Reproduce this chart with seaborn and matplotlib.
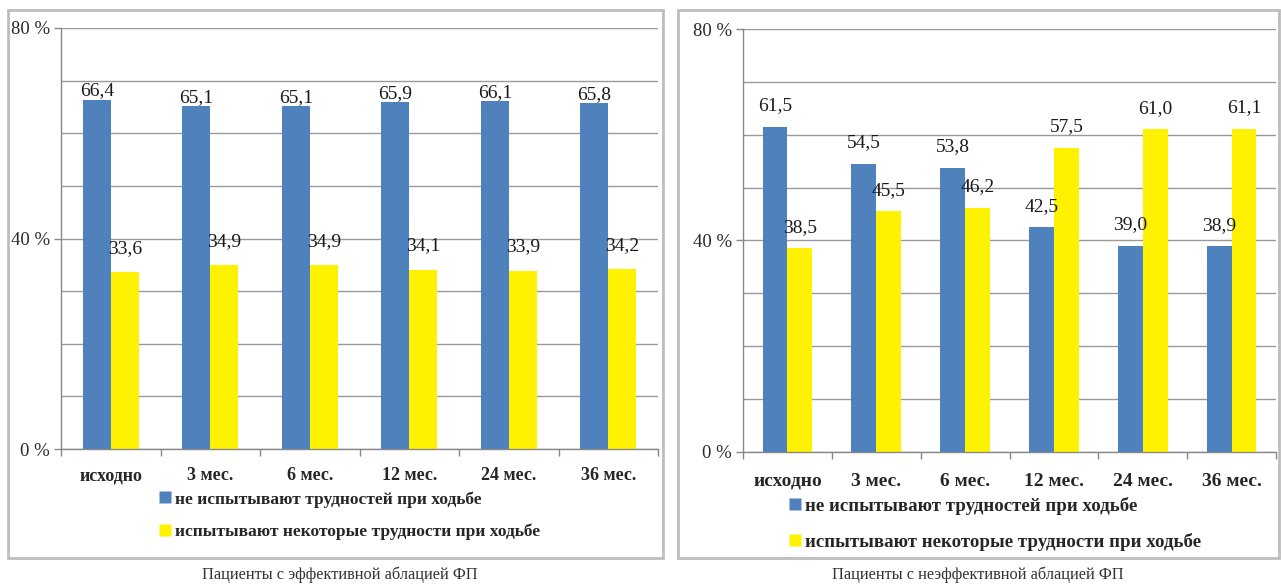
import matplotlib
matplotlib.use("Agg")
import matplotlib.pyplot as plt
from matplotlib.patches import Rectangle
from matplotlib.lines import Line2D
import seaborn as sns
import pandas as pd

periods = ["исходно", "3 мес.", "6 мес.", "12 мес.", "24 мес.", "36 мес."]
series_names = ["не испытывают трудностей при ходьбе",
                "испытывают некоторые трудности при ходьбе"]

effective_no_difficulty = [66.4, 65.1, 65.1, 65.9, 66.1, 65.8]
effective_some_difficulty = [33.6, 34.9, 34.9, 34.1, 33.9, 34.2]

ineffective_no_difficulty = [61.5, 54.5, 53.8, 42.5, 39.0, 38.9]
ineffective_some_difficulty = [38.5, 45.5, 46.2, 57.5, 61.0, 61.1]

captions = ["Пациенты с эффективной аблацией ФП",
            "Пациенты с неэффективной аблацией ФП"]

y_ticks = [0, 40, 80]
y_tick_labels = ["0 %", "40 %", "80 %"]

colors = ["#4F81BD", "#FFF200"]

sns.set_theme(style="white")
plt.rcParams["font.family"] = ["Liberation Serif", "DejaVu Serif"]

W, H = 1281, 585
fig = plt.figure(figsize=(W / 100, H / 100), dpi=100)


def fx(px):
    return px / W


def fy(py):
    return 1 - py / H


def draw_panel(ax_box, frame_box, no_diff, some_diff, caption, caption_x,
               legend_pos, sizes, label_pads, xtick_pad):
    value_size, xtick_size, ytick_size, legend_size, legend_gap = sizes
    x0, y0, x1, y1 = frame_box
    fig.patches.append(Rectangle((fx(x0), fy(y1)), fx(x1 - x0), fy(y0) - fy(y1),
                                 transform=fig.transFigure, fill=False,
                                 edgecolor="#BDBDBD", linewidth=2.0))
    l, t, r, b = ax_box
    ax = fig.add_axes([fx(l), fy(b), fx(r - l), fy(t) - fy(b)])

    df = pd.DataFrame({
        "period": periods * 2,
        "series": [series_names[0]] * len(periods) + [series_names[1]] * len(periods),
        "value": list(no_diff) + list(some_diff),
    })
    sns.barplot(data=df, x="period", y="value", hue="series", order=periods,
                hue_order=series_names, palette=colors, width=0.56,
                saturation=1, legend=False, ax=ax, edgecolor="none")

    for cont, vals, pad in zip(ax.containers, [no_diff, some_diff], label_pads):
        ax.bar_label(cont, labels=[f"{v:.1f}".replace(".", ",") for v in vals],
                     padding=pad, fontsize=value_size, color="#1A1A1A")

    ax.set_ylim(0, 80)
    ax.set_xlim(-0.5, len(periods) - 0.5)
    ax.set_yticks(y_ticks)
    ax.set_yticklabels(y_tick_labels, fontsize=ytick_size, color="#2A2A2A")
    ax.set_yticks(range(0, 81, 10), minor=True)
    ax.yaxis.grid(True, which="both", color="#9A9A9A", linewidth=1.0)
    ax.set_axisbelow(True)
    ax.tick_params(axis="y", which="major", length=5, width=1, color="#888888", left=True, pad=3)
    ax.tick_params(axis="y", which="minor", length=0)

    ax.set_xticks(range(len(periods)))
    ax.set_xticklabels(periods, fontsize=xtick_size, color="#262626", fontweight="bold")
    ax.set_xticks([i - 0.5 for i in range(len(periods) + 1)], minor=True)
    ax.tick_params(axis="x", which="major", length=0, pad=xtick_pad)
    ax.tick_params(axis="x", which="minor", length=5, width=1, color="#888888", bottom=True)

    ax.set_xlabel("")
    ax.set_ylabel("")
    for side in ["top", "right"]:
        ax.spines[side].set_visible(False)
    for side in ["left", "bottom"]:
        ax.spines[side].set_color("#888888")
        ax.spines[side].set_linewidth(1.0)

    handles = [Line2D([], [], marker="s", linestyle="none", markersize=8,
                      markerfacecolor=c, markeredgecolor="none") for c in colors]
    fig.legend(handles, series_names, loc="upper left",
               bbox_to_anchor=(fx(legend_pos[0]), fy(legend_pos[1])),
               bbox_transform=fig.transFigure, frameon=False,
               prop={"size": legend_size, "weight": "bold"},
               handlelength=0.6, handletextpad=0.25,
               labelspacing=legend_gap, borderpad=0, borderaxespad=0,
               labelcolor="#262626")

    fig.text(fx(caption_x), fy(575), caption, ha="center", va="center",
             fontsize=11.75, color="#333333")
    return ax


draw_panel((61, 28, 658, 449), (8, 10, 663, 558),
           effective_no_difficulty, effective_some_difficulty,
           captions[0], 340, (160, 491), (14, 13, 13.5, 12.6, 0.9), (0, 11), 13)
draw_panel((743, 29, 1276, 452), (678, 10, 1279, 558),
           ineffective_no_difficulty, ineffective_some_difficulty,
           captions[1], 978, (789, 497), (14, 14, 13.5, 13.6, 0.95), (9, 9), 15)

fig.savefig("out.png", dpi=100, facecolor="white")
